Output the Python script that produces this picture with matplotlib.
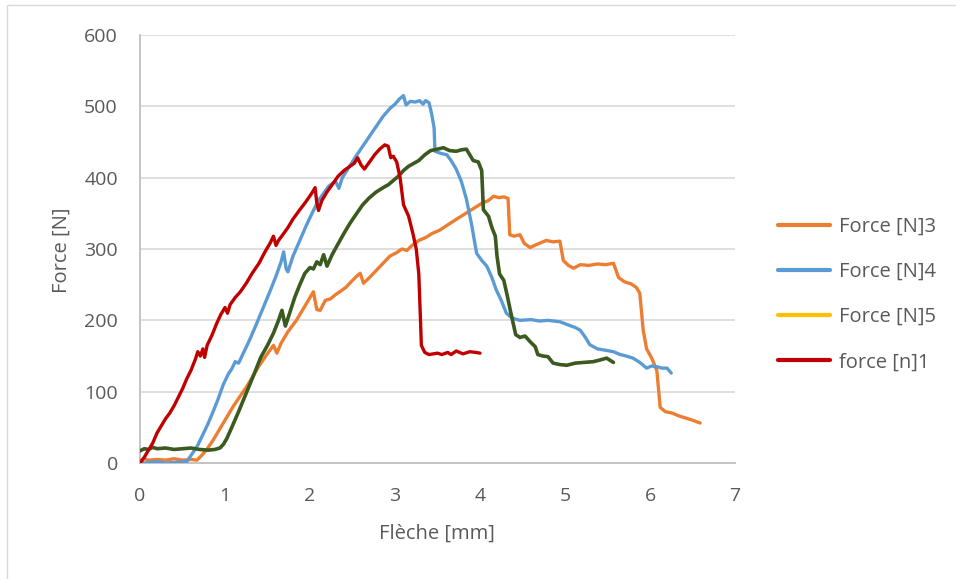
import matplotlib
matplotlib.use("Agg")
import matplotlib.pyplot as plt
from matplotlib.patches import Rectangle

plt.rcParams['font.family'] = ['Open Sans', 'DejaVu Sans']

# Deflection [mm] / force [N] curves
x_n1 = [0.00, 0.05, 0.10, 0.15, 0.20, 0.25, 0.30, 0.35, 0.40, 0.45, 0.50, 0.55, 0.60, 0.65, 0.68,
        0.71, 0.74, 0.76, 0.79, 0.85, 0.90, 0.95, 1.00, 1.03, 1.06, 1.12, 1.18, 1.25, 1.32, 1.40,
        1.47, 1.53, 1.57, 1.60, 1.63, 1.68, 1.74, 1.80, 1.88, 1.95, 2.02, 2.06, 2.08, 2.10, 2.14,
        2.20, 2.26, 2.33, 2.40, 2.47, 2.52, 2.56, 2.60, 2.64, 2.70, 2.76, 2.82, 2.88, 2.92, 2.95,
        2.98, 3.02, 3.06, 3.10, 3.16, 3.21, 3.25, 3.28, 3.30, 3.31, 3.35, 3.40, 3.50, 3.55, 3.62,
        3.66, 3.72, 3.80, 3.88, 3.95, 4.00]
y_n1 = [0, 8, 18, 28, 42, 52, 62, 70, 80, 92, 104, 118, 130, 145, 156,
        150, 160, 148, 165, 180, 195, 208, 218, 210, 222, 232, 240, 252, 266, 280,
        296, 308, 318, 305, 312, 320, 330, 342, 355, 366, 378, 386, 365, 354, 368,
        380, 390, 402, 410, 416, 420, 428, 418, 412, 422, 432, 440, 446, 444, 428,
        430, 422, 400, 362, 346, 322, 300, 265, 200, 165, 155, 152, 154, 152, 155,
        152, 157, 153, 156, 155, 154]

x_n3 = [0.00, 0.05, 0.10, 0.20, 0.30, 0.40, 0.50, 0.60, 0.67, 0.72, 0.78, 0.86, 0.94, 1.02, 1.10,
        1.18, 1.25, 1.32, 1.40, 1.48, 1.57, 1.61, 1.66, 1.74, 1.84, 1.94, 2.04, 2.08, 2.12, 2.18,
        2.24, 2.30, 2.35, 2.42, 2.50, 2.55, 2.59, 2.63, 2.70, 2.78, 2.86, 2.94, 3.02, 3.08, 3.14,
        3.20, 3.28, 3.36, 3.44, 3.52, 3.61, 3.70, 3.78, 3.86, 3.94, 4.02, 4.10, 4.16, 4.22, 4.28,
        4.33, 4.35, 4.40, 4.47, 4.52, 4.59, 4.66, 4.72, 4.78, 4.86, 4.94, 4.98, 5.04, 5.10, 5.18,
        5.28, 5.38, 5.48, 5.57, 5.63, 5.70, 5.78, 5.84, 5.88, 5.92, 5.96, 6.02, 6.08, 6.12, 6.18,
        6.26, 6.34, 6.42, 6.50, 6.59]
y_n3 = [3, 6, 4, 5, 4, 6, 4, 5, 4, 10, 18, 32, 48, 64, 80,
        94, 106, 120, 136, 150, 165, 154, 168, 184, 200, 220, 240, 215, 214, 228,
        230, 236, 240, 246, 256, 262, 266, 252, 260, 270, 280, 290, 295, 300, 298,
        305, 312, 316, 322, 326, 333, 340, 346, 352, 358, 364, 368, 374, 372, 373,
        371, 320, 318, 320, 308, 302, 306, 309, 312, 310, 311, 284, 277, 273, 278,
        277, 279, 278, 280, 260, 254, 251, 246, 238, 186, 160, 147, 130, 78, 72,
        70, 66, 63, 60, 56]

x_n4 = [0.00, 0.05, 0.20, 0.30, 0.45, 0.55, 0.62, 0.68, 0.74, 0.80, 0.86, 0.92, 0.98, 1.04, 1.08,
        1.12, 1.16, 1.20, 1.28, 1.36, 1.44, 1.52, 1.60, 1.66, 1.69, 1.72, 1.74, 1.80, 1.88, 1.96,
        2.04, 2.10, 2.16, 2.22, 2.30, 2.34, 2.38, 2.46, 2.54, 2.62, 2.70, 2.78, 2.86, 2.94, 3.00,
        3.05, 3.10, 3.13, 3.18, 3.24, 3.29, 3.33, 3.36, 3.40, 3.43, 3.46, 3.47, 3.54, 3.61, 3.66,
        3.72, 3.78, 3.84, 3.90, 3.96, 4.02, 4.08, 4.14, 4.19, 4.25, 4.31, 4.38, 4.47, 4.60, 4.70,
        4.80, 4.94, 5.05, 5.12, 5.18, 5.24, 5.29, 5.38, 5.48, 5.57, 5.65, 5.72, 5.80, 5.88, 5.96,
        6.02, 6.08, 6.14, 6.20, 6.25]
y_n4 = [2, 0, 2, 0, 1, 2, 14, 25, 40, 55, 72, 90, 110, 125, 132,
        142, 140, 150, 170, 192, 215, 238, 262, 282, 296, 272, 268, 290, 312, 334,
        354, 368, 378, 388, 395, 385, 400, 415, 430, 444, 458, 472, 486, 497, 503,
        510, 515, 502, 507, 506, 508, 503, 508, 505, 490, 470, 437, 434, 432, 424,
        412, 395, 370, 335, 294, 284, 276, 260, 243, 228, 210, 203, 200, 201, 199,
        200, 198, 193, 190, 186, 176, 166, 160, 158, 156, 152, 150, 147, 141, 133,
        136, 135, 133, 133, 126]

x_n5 = [0.00, 0.05, 0.10, 0.15, 0.20, 0.30, 0.40, 0.50, 0.60, 0.70, 0.80, 0.88, 0.94, 0.98, 1.02,
        1.08, 1.16, 1.25, 1.34, 1.42, 1.50, 1.57, 1.63, 1.67, 1.71, 1.76, 1.82, 1.88, 1.94, 2.00,
        2.04, 2.08, 2.12, 2.16, 2.20, 2.26, 2.32, 2.40, 2.47, 2.55, 2.62, 2.70, 2.78, 2.86, 2.92,
        2.98, 3.04, 3.10, 3.16, 3.22, 3.28, 3.35, 3.42, 3.50, 3.57, 3.64, 3.72, 3.78, 3.84, 3.88,
        3.92, 3.98, 4.02, 4.04, 4.10, 4.14, 4.18, 4.20, 4.23, 4.28, 4.32, 4.36, 4.42, 4.47, 4.53,
        4.59, 4.65, 4.68, 4.74, 4.80, 4.86, 4.94, 5.02, 5.12, 5.22, 5.33, 5.40, 5.49, 5.57]
y_n5 = [17, 20, 19, 22, 20, 21, 19, 20, 21, 19, 18, 19, 21, 26, 34,
        50, 72, 98, 124, 148, 165, 182, 200, 214, 192, 210, 232, 250, 266, 274,
        272, 282, 278, 292, 276, 292, 305, 322, 336, 350, 362, 372, 380, 386, 390,
        396, 402, 410, 416, 420, 424, 432, 438, 440, 442, 438, 437, 439, 440, 432,
        424, 422, 410, 355, 346, 330, 318, 290, 265, 256, 235, 212, 180, 176, 178,
        170, 163, 152, 150, 149, 140, 138, 137, 140, 141, 142, 144, 147, 141]

x_ticks = [0, 1, 2, 3, 4, 5, 6, 7]
y_ticks = [0, 100, 200, 300, 400, 500, 600]

W, H = 956, 579
fig = plt.figure(figsize=(W / 100, H / 100), dpi=100)
ax = fig.add_axes([140 / W, 1 - 463 / H, (735 - 140) / W, (463 - 35) / H])

lw = 2.4
ax.plot(x_n3, y_n3, color='#ED7D31', lw=lw, label='Force [N]3', solid_capstyle='round', zorder=3)
ax.plot(x_n4, y_n4, color='#5B9BD5', lw=lw, label='Force [N]4', solid_capstyle='round', zorder=4)
ax.plot(x_n5, y_n5, color='#FFC000', lw=lw - 0.6, label='Force [N]5', solid_capstyle='round', zorder=5)
ax.plot(x_n5, y_n5, color='#3B5A22', lw=lw + 0.2, solid_capstyle='round', zorder=6)
ax.plot(x_n1, y_n1, color='#C00000', lw=lw, label='force [n]1', solid_capstyle='round', zorder=7)

ax.set_xlim(0, 7)
ax.set_ylim(0, 600)
ax.set_xticks(x_ticks)
ax.set_yticks(y_ticks)
ax.tick_params(length=0, labelsize=14, colors='#595959')
ax.tick_params(axis='y', pad=16)
ax.tick_params(axis='x', pad=17)
ax.yaxis.grid(True, color='#D9D9D9', lw=1.2)
ax.set_axisbelow(True)
for s in ('top', 'right'):
    ax.spines[s].set_visible(False)
for s in ('left', 'bottom'):
    ax.spines[s].set_color('#BFBFBF')
    ax.spines[s].set_linewidth(1.3)

fig.text(437 / W, 1 - 534 / H, 'Flèche [mm]', ha='center', va='center', fontsize=14.5, color='#595959')
fig.text(62 / W, 1 - 250 / H, 'Force [N]', ha='center', va='center', rotation=90, fontsize=14.5, color='#595959')

leg = fig.legend(loc='center left', bbox_to_anchor=(778 / W, 1 - 294.5 / H), frameon=False,
                 fontsize=14.5, handlelength=2.6, handletextpad=0.45, labelspacing=1.25,
                 borderpad=0, borderaxespad=0)
for t in leg.get_texts():
    t.set_color('#595959')
for h in leg.get_lines():
    h.set_linewidth(3)

fig.patches.append(Rectangle((7 / W, -0.1), 1.2, 1 - 5 / H + 0.1, transform=fig.transFigure,
                             fill=False, edgecolor='#D9D9D9', lw=1.0))

fig.savefig('out.png', dpi=100)
